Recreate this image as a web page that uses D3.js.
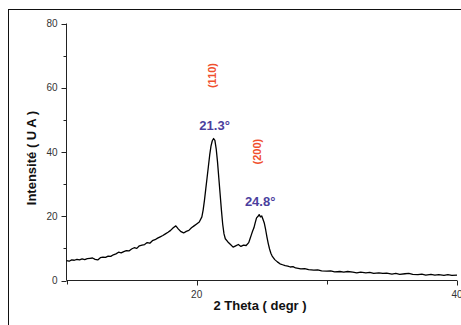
<!DOCTYPE html>
<html>
<head>
<meta charset="utf-8">
<script src="https://cdn.jsdelivr.net/npm/d3@7"></script>
<style>
  html, body { margin: 0; padding: 0; background: #fff; }
  svg { display: block; font-family: "Liberation Sans", Arial, sans-serif; }
</style>
</head>
<body>
<svg id="chart" width="461" height="325"></svg>
<script>
// XRD pattern
const twoTheta = [
  10.0, 10.2, 10.4, 10.6, 10.8, 11.0, 11.2, 11.4, 11.6, 11.8,
  12.0, 12.2, 12.4, 12.6, 12.8, 13.0, 13.2, 13.4, 13.6, 13.8,
  14.0, 14.2, 14.4, 14.6, 14.8, 15.0, 15.2, 15.4, 15.6, 15.8,
  16.0, 16.2, 16.4, 16.6, 16.8, 17.0, 17.2, 17.4, 17.6, 17.8,
  18.0, 18.2, 18.4, 18.6, 18.8, 19.0, 19.2, 19.4, 19.6, 19.8,
  20.0, 20.2, 20.4, 20.5, 20.6, 20.7, 20.8, 20.9, 21.0, 21.1,
  21.2, 21.3, 21.4, 21.5, 21.6, 21.7, 21.8, 21.9, 22.0, 22.1,
  22.2, 22.4, 22.6, 22.8, 23.0, 23.2, 23.4, 23.6, 23.8, 24.0,
  24.1, 24.2, 24.3, 24.4, 24.5, 24.6, 24.7, 24.8, 24.9, 25.0,
  25.1, 25.2, 25.3, 25.4, 25.5, 25.6, 25.7, 25.8, 26.0, 26.2,
  26.4, 26.6, 26.8, 27.0, 27.2, 27.4, 27.6, 27.8, 28.0, 28.3,
  28.6, 29.0, 29.3, 29.6, 30.0, 30.3, 30.6, 31.0, 31.3, 31.6,
  32.0, 32.3, 32.6, 33.0, 33.3, 33.6, 34.0, 34.3, 34.6, 35.0,
  35.3, 35.6, 36.0, 36.3, 36.6, 37.0, 37.3, 37.6, 38.0, 38.3,
  38.6, 39.0, 39.3, 39.6, 40.0
];
const intensity = [
  6.2, 6.0, 6.4, 6.3, 6.6, 6.4, 6.7, 6.5, 6.8, 6.9,
  7.0, 6.6, 6.4, 7.1, 7.3, 7.2, 7.6, 7.5, 8.0, 8.3,
  8.8, 8.6, 9.0, 9.3, 9.2, 9.8, 10.2, 10.0, 10.8, 11.0,
  11.2, 11.8, 11.6, 12.4, 12.7, 13.2, 13.6, 14.0, 14.5, 15.0,
  15.6, 16.4, 17.0, 16.0, 15.2, 14.8, 15.3, 15.6, 16.4, 17.0,
  17.6, 18.2, 19.8, 22.0, 25.0, 28.5, 32.0, 35.5, 39.0, 41.8,
  43.5, 44.2, 43.6, 41.0, 37.0, 32.0, 27.0, 22.0, 17.5, 14.5,
  13.0, 12.0, 11.2, 10.4, 10.8, 11.2, 10.6, 11.0, 10.9, 11.8,
  13.0, 14.2, 15.4, 16.4, 18.0, 19.5, 19.9, 20.5, 19.8, 20.1,
  19.0, 17.8, 15.8, 13.5, 11.5, 9.8, 8.5, 7.6, 6.5, 5.8,
  5.2, 4.9, 4.6, 4.5, 4.2, 4.3, 3.9, 3.8, 3.6, 3.7,
  3.4, 3.2, 3.3, 3.0, 2.9, 3.0, 2.7, 2.8, 2.6, 2.8,
  2.6, 2.4, 2.6, 2.4, 2.5, 2.2, 2.4, 2.2, 2.3, 2.0,
  2.2, 1.9, 2.1, 2.2, 1.9, 1.8, 2.0, 1.7, 1.9, 1.7,
  1.8, 1.6, 1.8, 1.6, 1.7
];

// peak labels
const peakPos = [21.3, 24.8];
const peakLabels = ["21.3°", "24.8°"];
const peakHeights = [44.2, 20.5];
const planeLabels = ["(110)", "(200)"];

const xTicks = [10, 20, 30, 40];
const xTickLabels = ["", "20", "", "40"];
const yTicks = [0, 10, 20, 30, 40, 50, 60, 70, 80];

const colors = {
  line: "#000",
  axis: "#222",
  tickText: "#333",
  peak: "#4b3f9e",
  plane: "#f0502e"
};

const svg = d3.select("#chart");

// outer frame (only left and top edges fall inside the picture)
svg.append("rect")
  .attr("x", 8.5).attr("y", 9.5)
  .attr("width", 600).attr("height", 400)
  .attr("fill", "none").attr("stroke", "#111").attr("stroke-width", 1);

const x = d3.scaleLinear().domain([10, 40]).range([66.5, 457]);
const y = d3.scaleLinear().domain([0, 80]).range([280.5, 23.5]);

// x axis
const xAxis = svg.append("g").attr("transform", "translate(0,280.5)");
xAxis.append("line")
  .attr("x1", x(10)).attr("x2", x(40))
  .attr("stroke", colors.axis);
xAxis.selectAll("line.tick")
  .data(xTicks)
  .enter().append("line")
  .attr("class", "tick")
  .attr("x1", d => Math.round(x(d)) + 0.5).attr("x2", d => Math.round(x(d)) + 0.5)
  .attr("y1", 0).attr("y2", (d, i) => xTickLabels[i] ? 5 : 4)
  .attr("stroke", colors.axis);
xAxis.selectAll("text")
  .data(xTicks)
  .enter().append("text")
  .attr("x", d => x(d))
  .attr("y", 17)
  .attr("text-anchor", "middle")
  .attr("font-size", 10)
  .attr("fill", colors.tickText)
  .text((d, i) => xTickLabels[i]);

// y axis
const yAxis = svg.append("g").attr("transform", "translate(66.5,0)");
yAxis.append("line")
  .attr("y1", y(0)).attr("y2", y(80))
  .attr("stroke", colors.axis);
yAxis.selectAll("line.tick")
  .data(yTicks)
  .enter().append("line")
  .attr("class", "tick")
  .attr("y1", d => Math.round(y(d)) + 0.5).attr("y2", d => Math.round(y(d)) + 0.5)
  .attr("x1", 0).attr("x2", d => d % 20 === 0 ? -5 : -3)
  .attr("stroke", colors.axis);
yAxis.selectAll("text")
  .data(yTicks.filter(d => d % 20 === 0))
  .enter().append("text")
  .attr("x", -9)
  .attr("y", d => y(d) + 3.5)
  .attr("text-anchor", "end")
  .attr("font-size", 10)
  .attr("fill", colors.tickText)
  .text(d => d);

// axis titles
svg.append("text")
  .attr("x", 260).attr("y", 310)
  .attr("text-anchor", "middle")
  .attr("font-size", 13).attr("font-weight", "bold")
  .attr("fill", "#111")
  .text("2 Theta ( degr )");

svg.append("text")
  .attr("transform", "translate(36,158) rotate(-90)")
  .attr("text-anchor", "middle")
  .attr("font-size", 13).attr("font-weight", "bold")
  .attr("fill", "#111")
  .text("Intensité ( U A )");

// the pattern
const pts = twoTheta.map((t, i) => [t, intensity[i]]);
const line = d3.line().x(d => x(d[0])).y(d => y(d[1]));
svg.append("path")
  .datum(pts)
  .attr("d", line)
  .attr("fill", "none")
  .attr("stroke", colors.line)
  .attr("stroke-width", 1.3)
  .attr("stroke-linejoin", "round");

// peak annotations
svg.selectAll("text.peak")
  .data(peakPos)
  .enter().append("text")
  .attr("class", "peak")
  .attr("x", d => x(d) + 1)
  .attr("y", (d, i) => y(peakHeights[i]) - 9)
  .attr("text-anchor", "middle")
  .attr("font-size", 13).attr("font-weight", "bold")
  .attr("fill", colors.peak)
  .text((d, i) => peakLabels[i]);

svg.selectAll("text.plane")
  .data(peakPos)
  .enter().append("text")
  .attr("class", "plane")
  .attr("transform", (d, i) => `translate(${x(d) + 2},${y(peakHeights[i]) - 63}) rotate(-90)`)
  .attr("text-anchor", "middle")
  .attr("font-size", 11).attr("font-weight", "bold")
  .attr("fill", colors.plane)
  .text((d, i) => planeLabels[i]);
</script>
</body>
</html>
